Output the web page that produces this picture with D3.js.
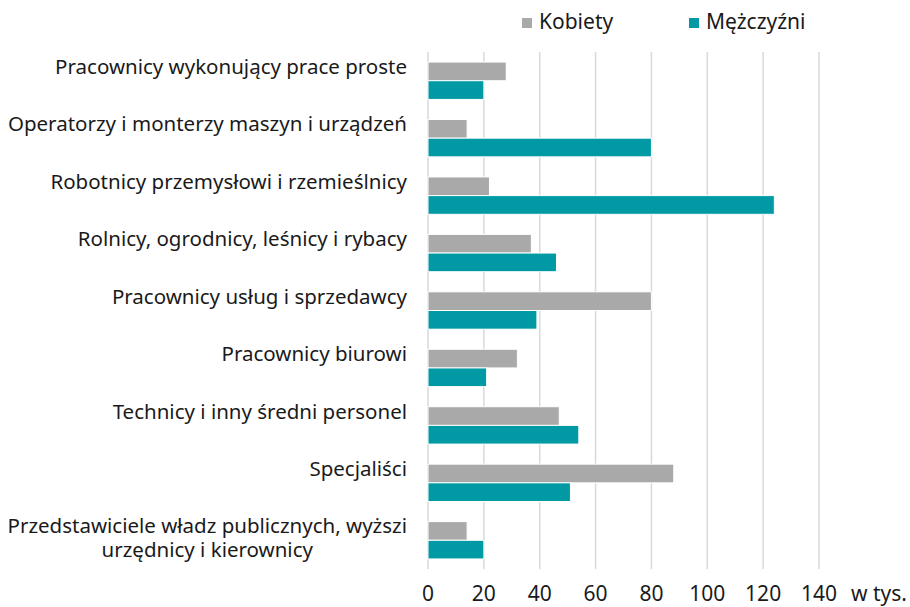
<!DOCTYPE html>
<html>
<head>
<meta charset="utf-8">
<script src="https://cdn.jsdelivr.net/npm/d3@7"></script>
<style>
  body { margin: 0; background: #fff; }
  svg { display: block; font-family: "Noto Sans", sans-serif; }
</style>
</head>
<body>
<div id="chart-container"></div>
<script>
const width = 910;
const height = 607;

// data
const categories = [
  "Pracownicy wykonujący prace proste",
  "Operatorzy i monterzy maszyn i urządzeń",
  "Robotnicy przemysłowi i rzemieślnicy",
  "Rolnicy, ogrodnicy, leśnicy i rybacy",
  "Pracownicy usług i sprzedawcy",
  "Pracownicy biurowi",
  "Technicy i inny średni personel",
  "Specjaliści",
  "Przedstawiciele władz publicznych, wyższi|urzędnicy i kierownicy"
];
const seriesNames = ["Kobiety", "Mężczyźni"];
const kobiety = [28, 14, 22, 37, 80, 32, 47, 88, 14];
const mezczyzni = [20, 80, 124, 46, 39, 21, 54, 51, 20];
const xTicks = [0, 20, 40, 60, 80, 100, 120, 140];
const unitLabel = "w tys.";

const colors = { "Kobiety": "#a9a9a9", "Mężczyźni": "#0099a4" };

const rows = categories.map((c, i) => ({
  name: c,
  values: [
    { key: "Kobiety", value: kobiety[i] },
    { key: "Mężczyźni", value: mezczyzni[i] }
  ]
}));

const svg = d3.select("#chart-container").append("svg")
  .attr("width", width)
  .attr("height", height);

const x = d3.scaleLinear().domain([0, 140]).range([428, 819]);

const y = d3.scaleBand()
  .domain(categories)
  .range([52, 569])
  .paddingInner(0.35)
  .paddingOuter(0.175);

const ySub = d3.scaleBand()
  .domain(seriesNames)
  .range([0, y.bandwidth()]);

// gridlines
svg.append("g")
  .selectAll("line")
  .data(xTicks)
  .join("line")
  .attr("x1", d => x(d))
  .attr("x2", d => x(d))
  .attr("y1", 52)
  .attr("y2", 569)
  .attr("stroke", "#d9d9d9")
  .attr("stroke-width", 1.5);

// bars
const groups = svg.append("g")
  .selectAll("g")
  .data(rows)
  .join("g")
  .attr("transform", d => `translate(0,${y(d.name)})`);

groups.selectAll("rect")
  .data(d => d.values)
  .join("rect")
  .attr("x", x(0))
  .attr("y", d => ySub(d.key))
  .attr("width", d => x(d.value) - x(0))
  .attr("height", ySub.bandwidth())
  .attr("fill", d => colors[d.key])
  .attr("stroke", "#fff")
  .attr("stroke-width", 1);

// category labels (one text per line)
const labelLines = [];
categories.forEach(d => {
  const lines = d.split("|");
  const cy = y(d) + y.bandwidth() / 2;
  if (lines.length === 1) {
    labelLines.push({ text: lines[0], y: cy - 14, anchor: "end", x: 407 });
  } else {
    labelLines.push({ text: lines[0], y: cy - 14, anchor: "end", x: 407, first: true });
    labelLines.push({ text: lines[1], y: cy + 10, anchor: "middle", x: 407, second: true });
  }
});

const labels = svg.append("g")
  .selectAll("text")
  .data(labelLines)
  .join("text")
  .attr("x", d => d.x)
  .attr("y", d => d.y)
  .attr("dy", "0.35em")
  .attr("text-anchor", d => d.anchor)
  .attr("font-size", 20.5)
  .attr("fill", "#1a1a1a")
  .text(d => d.text);

// centre the wrapped second line under the first
const firstW = labels.filter(d => d.first).node().getComputedTextLength();
labels.filter(d => d.second).attr("x", 407 - firstW / 2);

// x axis labels
svg.append("g")
  .selectAll("text")
  .data(xTicks)
  .join("text")
  .attr("x", d => x(d))
  .attr("y", 594)
  .attr("dy", "0.35em")
  .attr("text-anchor", "middle")
  .attr("font-size", 21)
  .attr("fill", "#1a1a1a")
  .text(d => d);

svg.append("text")
  .attr("x", 851)
  .attr("y", 594)
  .attr("dy", "0.35em")
  .attr("font-size", 21)
  .attr("fill", "#1a1a1a")
  .text(unitLabel);

// legend
const legendX = [522, 689];
const legend = svg.append("g")
  .selectAll("g")
  .data(seriesNames)
  .join("g")
  .attr("transform", (d, i) => `translate(${legendX[i]},0)`);

legend.append("rect")
  .attr("x", 0)
  .attr("y", 18)
  .attr("width", 10)
  .attr("height", 10)
  .attr("fill", d => colors[d]);

legend.append("text")
  .attr("x", 17)
  .attr("y", 22)
  .attr("dy", "0.35em")
  .attr("font-size", 21)
  .attr("fill", "#1a1a1a")
  .text(d => d);
</script>
</body>
</html>
